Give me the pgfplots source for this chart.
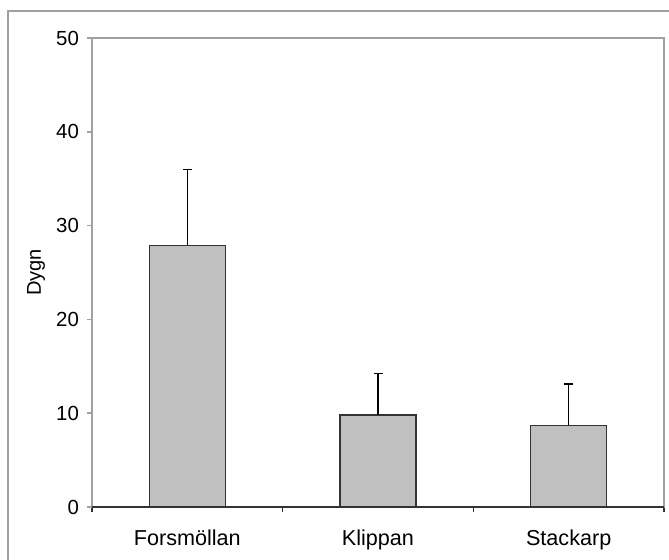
\documentclass[border=0pt]{standalone}
\usepackage{fontspec}
\setmainfont{Liberation Sans}
\usepackage{pgfplots}
\pgfplotsset{compat=1.18}
\definecolor{barfill}{HTML}{C0C0C0}
\definecolor{spine}{HTML}{A0A0A0}
\definecolor{edge}{HTML}{333333}
\begin{document}
\begin{tikzpicture}
\begin{axis}[
  at={(0,0)}, anchor=south west,
  scale only axis, width=286pt, height=234.5pt,
  xmin=-0.5, xmax=2.5, ymin=0, ymax=50,
  axis line style={spine, line width=0.8pt},
  xtick={-0.5,0.5,1.5,2.5}, xticklabels={},
  extra x ticks={0,1,2},
  extra x tick labels={Forsmöllan,Klippan,Stackarp},
  extra x tick style={major tick length=0pt, x tick label style={yshift=-8pt}},
  ytick={0,10,20,30,40,50},
  tick align=outside, major tick length=2.5pt,
  xtick pos=bottom, ytick pos=left,
  y tick style={spine, line width=0.8pt},
  x tick style={edge, line width=0.8pt},
  /pgf/number format/assume math mode=true,
  tick label style={font=\fontsize{10.2}{12}\selectfont, black},
  label style={font=\fontsize{10.8}{12}\selectfont},
  x tick label style={font=\fontsize{10.8}{12}\selectfont},
  y tick label style={xshift=-0.5pt},
  ylabel={Dygn},
  every axis y label/.style={at={(axis description cs:-0.0979,0.5)}, rotate=90, anchor=center},
  clip=false,
]
\addplot[ybar, bar width=38pt, fill=barfill, draw=edge, line width=0.7pt,
  error bars/.cd, y dir=plus, y explicit,
  error bar style={black, line width=0.7pt},
  error mark options={black, line width=0.7pt, mark size=2.25pt, rotate=90}]
  table[x=x, y=y, y error=e] {
x y e
0 27.9 8.1
1 9.8 4.4
2 8.7 4.4
};
\draw[edge, line width=0.8pt] (rel axis cs:0,0) -- (rel axis cs:1,0);
\end{axis}
\draw[spine, line width=0.6pt] (-42pt,-30pt) -- (-42pt,248pt) -- (300pt,248pt);
\pgfresetboundingbox
\useasboundingbox (-46pt,-26.5pt) rectangle (288.5pt,253.5pt);
\end{tikzpicture}
\end{document}
